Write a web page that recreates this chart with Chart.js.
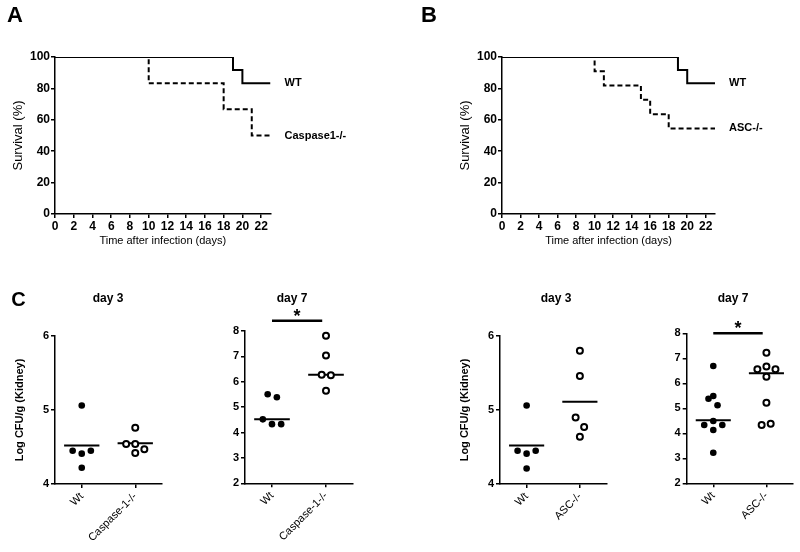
<!DOCTYPE html>
<html>
<head>
<meta charset="utf-8">
<script src="https://cdn.jsdelivr.net/npm/chart.js@4.4.0/dist/chart.umd.min.js"></script>
<style>
  body { margin: 0; background: #fff; }
  #wrap { position: relative; width: 800px; height: 552px; }
  #wrap canvas { position: absolute; left: 0; top: 0; }
</style>
</head>
<body>
<div id="wrap">
  <canvas id="survA" width="800" height="552"></canvas>
  <canvas id="survB" width="800" height="552"></canvas>
  <canvas id="c1" width="800" height="552"></canvas>
  <canvas id="c2" width="800" height="552"></canvas>
  <canvas id="c3" width="800" height="552"></canvas>
  <canvas id="c4" width="800" height="552"></canvas>
</div>
<script>
const FONT = "'Liberation Sans', Arial, Helvetica, sans-serif";
const W = 800, H = 552;

// A - survival, WT vs Caspase1-/-
const daysWtA = [0, 19, 20, 23];
const survWtA = [100, 91.7, 83.3, 83.3];
const daysCasp = [0, 10, 18, 21, 23];
const survCasp = [100, 83.3, 66.7, 50, 50];

// B - survival, WT vs ASC-/-
const daysWtB = [0, 19, 20, 23];
const survWtB = [100, 91.7, 83.3, 83.3];
const daysAsc = [0, 10, 11, 15, 16, 18, 23];
const survAsc = [100, 90.9, 81.8, 72.7, 63.6, 54.5, 54.5];

// C - Log CFU/g (Kidney), jitter = horizontal spread of the dots
const groupsCasp = ['Wt', 'Caspase-1-/-'];
const groupsAsc = ['Wt', 'ASC-/-'];

const d3WtC = [5.06, 4.45, 4.41, 4.45, 4.22];
const d3WtCJit = [0, -0.17, 0, 0.17, 0];
const d3Casp = [4.76, 4.54, 4.54, 4.47, 4.42];
const d3CaspJit = [0, -0.17, 0, 0.17, 0];
const d3CaspLines = [4.52, 4.55];

const d7WtC = [5.51, 5.39, 4.52, 4.33, 4.33];
const d7WtCJit = [-0.08, 0.09, -0.17, 0, 0.17];
const d7Casp = [7.81, 7.03, 6.28, 6.26, 5.65];
const d7CaspJit = [0, 0, -0.08, 0.09, 0];
const d7CaspLines = [4.52, 6.28];
const d7CaspSig = [1, 1.93, 8.4];

const d3WtA = [5.06, 4.45, 4.41, 4.45, 4.21];
const d3WtAJit = [0, -0.17, 0, 0.17, 0];
const d3Asc = [5.80, 5.46, 4.90, 4.77, 4.64];
const d3AscJit = [0, 0, -0.08, 0.08, 0];
const d3AscLines = [4.52, 5.11];

const d7WtA = [6.69, 5.38, 5.49, 5.12, 4.49, 4.33, 4.33, 4.13, 3.22];
const d7WtAJit = [0, -0.09, 0, 0.08, 0, -0.17, 0.17, 0, 0];
const d7Asc = [7.22, 6.56, 6.67, 6.56, 6.26, 5.22, 4.33, 4.38];
const d7AscJit = [0, -0.17, 0, 0.17, 0, 0, -0.09, 0.08];
const d7AscLines = [4.52, 6.40];
const d7AscSig = [1, 1.93, 8.0];

const xy = (xs, ys) => xs.map((x, i) => ({ x: x, y: ys[i] }));
const dots = (pos, jit, vals) => vals.map((v, i) => ({ x: pos + jit[i], y: v }));

// chart area is given in page pixels; all canvases overlay the full page
function pad(area, yW, xH) {
  return { left: area.l - yW, right: W - area.r, top: area.t, bottom: H - area.b - xH };
}

const textPlugin = {
  id: 'panelText',
  afterDraw(chart, args, opts) {
    const ctx = chart.ctx;
    ctx.save();
    ctx.fillStyle = '#000';
    (opts.items || []).forEach(t => {
      ctx.font = t.font;
      ctx.textAlign = 'center';
      ctx.textBaseline = 'middle';
      ctx.fillText(t.text, t.x, t.y);
    });
    chart.data.datasets.forEach((ds, i) => {
      const pts = chart.getDatasetMeta(i).data;
      if (ds.endLabel) {
        const p = pts[pts.length - 1];
        ctx.font = 'bold 11px ' + FONT;
        ctx.textAlign = 'left';
        ctx.textBaseline = 'middle';
        ctx.fillText(ds.label, p.x + 14, p.y);
      }
      if (ds.star) {
        const mx = (pts[0].x + pts[1].x) / 2;
        ctx.font = 'bold 18px ' + FONT;
        ctx.textAlign = 'center';
        ctx.textBaseline = 'alphabetic';
        ctx.fillText('*', mx, pts[0].y + 1);
      }
    });
    ctx.restore();
  }
};

const axisLine = { color: '#000', width: 1.5 };
const tickMarks = { drawOnChartArea: false, color: '#000', lineWidth: 1.5, tickLength: 4 };

function survivalChart(id, area, wt, ko, koName, items, titlePad) {
  new Chart(document.getElementById(id), {
    type: 'line',
    data: {
      datasets: [
        { label: 'WT', data: wt, borderColor: '#000', borderWidth: 2, stepped: 'before', pointRadius: 0, fill: false, endLabel: true },
        { label: koName, data: ko, borderColor: '#000', borderWidth: 2, borderDash: [5, 3], stepped: 'before', pointRadius: 0, fill: false, endLabel: true }
      ]
    },
    options: {
      responsive: false,
      animation: false,
      devicePixelRatio: 1,
      layout: { padding: pad(area, 55, 36) },
      plugins: { legend: { display: false }, tooltip: { enabled: false }, panelText: { items: items } },
      scales: {
        x: {
          type: 'linear', min: 0, max: 23,
          border: axisLine, grid: tickMarks,
          ticks: { stepSize: 2, includeBounds: false, autoSkip: false, maxRotation: 0, padding: 1, color: '#000', font: { family: FONT, size: 12, weight: 'bold' } },
          title: { display: true, text: 'Time after infection (days)', color: '#000', padding: { top: 0, bottom: 2 }, font: { family: FONT, size: 11 } },
          afterFit: s => { s.height = 36; }
        },
        y: {
          min: 0, max: 100,
          border: axisLine, grid: tickMarks,
          ticks: { stepSize: 20, padding: 1, color: '#000', font: { family: FONT, size: 12, weight: 'bold' } },
          title: { display: true, text: 'Survival (%)', color: '#000', padding: { top: titlePad, bottom: 0 }, font: { family: FONT, size: 13 } },
          afterFit: s => { s.width = 55; }
        }
      }
    },
    plugins: [textPlugin]
  });
}

function dotChart(id, c) {
  const half = 0.33;
  const datasets = [
    { data: dots(2, c.koJit, c.ko), pointRadius: 3, backgroundColor: '#fff', borderColor: '#000', borderWidth: 2 },
    { data: dots(1, c.wtJit, c.wt), pointRadius: 3.3, backgroundColor: '#000', borderColor: '#000', borderWidth: 0 },
    { data: [{ x: 1 - half, y: c.lines[0] }, { x: 1 + half, y: c.lines[0] }], showLine: true, pointRadius: 0, borderColor: '#000', borderWidth: 2 },
    { data: [{ x: 2 - half, y: c.lines[1] }, { x: 2 + half, y: c.lines[1] }], showLine: true, pointRadius: 0, borderColor: '#000', borderWidth: 2 }
  ];
  if (c.sig) {
    datasets.push({ data: [{ x: c.sig[0], y: c.sig[2] }, { x: c.sig[1], y: c.sig[2] }], showLine: true, pointRadius: 0, borderColor: '#000', borderWidth: 2.5, clip: false, star: true });
  }
  const yW = c.yTitle ? 55 : 30;
  const xH = 62;
  new Chart(document.getElementById(id), {
    type: 'scatter',
    data: { datasets: datasets },
    options: {
      responsive: false,
      animation: false,
      devicePixelRatio: 1,
      layout: { padding: pad(c.area, yW, xH) },
      plugins: { legend: { display: false }, tooltip: { enabled: false }, panelText: { items: c.items } },
      scales: {
        x: {
          type: 'linear', min: 0.5, max: 2.5,
          border: axisLine, grid: tickMarks,
          afterBuildTicks: s => { s.ticks = [{ value: 1 }, { value: 2 }]; },
          ticks: {
            autoSkip: false, minRotation: 45, maxRotation: 45, padding: 2, color: '#000',
            font: { family: FONT, size: 11 },
            callback: v => c.groups[Math.round(v) - 1]
          },
          afterFit: s => { s.height = xH; }
        },
        y: {
          min: c.yMin, max: c.yMax,
          border: axisLine, grid: tickMarks,
          ticks: { stepSize: 1, padding: 2, color: '#000', font: { family: FONT, size: 11, weight: 'bold' } },
          title: { display: !!c.yTitle, text: 'Log CFU/g (Kidney)', color: '#000', padding: { top: 13, bottom: 0 }, font: { family: FONT, size: 11, weight: 'bold' } },
          afterFit: s => { s.width = yW; }
        }
      }
    },
    plugins: [textPlugin]
  });
}

survivalChart('survA', { l: 55, r: 270.5, t: 57, b: 214 },
  xy(daysWtA, survWtA), xy(daysCasp, survCasp), 'Caspase1-/-',
  [{ text: 'A', x: 15, y: 16, font: 'bold 22px ' + FONT }], 11);

survivalChart('survB', { l: 502, r: 715, t: 57, b: 214 },
  xy(daysWtB, survWtB), xy(daysAsc, survAsc), 'ASC-/-',
  [{ text: 'B', x: 429, y: 16, font: 'bold 22px ' + FONT }], 11);

dotChart('c1', {
  area: { l: 55, r: 162, t: 336, b: 484 }, yMin: 4, yMax: 6, yTitle: true,
  groups: groupsCasp, wt: d3WtC, wtJit: d3WtCJit, ko: d3Casp, koJit: d3CaspJit, lines: d3CaspLines,
  items: [{ text: 'C', x: 18.5, y: 300, font: 'bold 20px ' + FONT }, { text: 'day 3', x: 108, y: 299, font: 'bold 12px ' + FONT }]
});

dotChart('c2', {
  area: { l: 245, r: 353, t: 331, b: 483.3 }, yMin: 2, yMax: 8, yTitle: false,
  groups: groupsCasp, wt: d7WtC, wtJit: d7WtCJit, ko: d7Casp, koJit: d7CaspJit, lines: d7CaspLines, sig: d7CaspSig,
  items: [{ text: 'day 7', x: 292, y: 299, font: 'bold 12px ' + FONT }]
});

dotChart('c3', {
  area: { l: 500, r: 606.5, t: 336, b: 484 }, yMin: 4, yMax: 6, yTitle: true,
  groups: groupsAsc, wt: d3WtA, wtJit: d3WtAJit, ko: d3Asc, koJit: d3AscJit, lines: d3AscLines,
  items: [{ text: 'day 3', x: 556, y: 299, font: 'bold 12px ' + FONT }]
});

dotChart('c4', {
  area: { l: 686.7, r: 793, t: 333.3, b: 483.3 }, yMin: 2, yMax: 8, yTitle: false,
  groups: groupsAsc, wt: d7WtA, wtJit: d7WtAJit, ko: d7Asc, koJit: d7AscJit, lines: d7AscLines, sig: d7AscSig,
  items: [{ text: 'day 7', x: 733, y: 299, font: 'bold 12px ' + FONT }]
});
</script>
</body>
</html>
